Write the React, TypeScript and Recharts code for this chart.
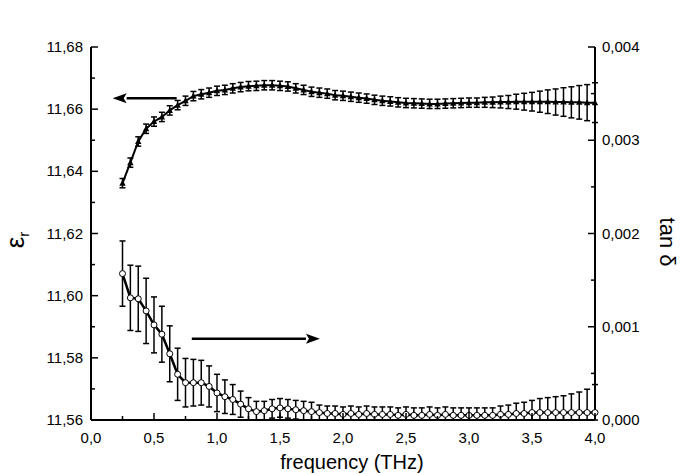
import { ComposedChart, Line, XAxis, YAxis, ErrorBar, ReferenceLine, Label } from "recharts";

// frequency grid (THz)
const freq = [
  0.25, 0.3125, 0.375, 0.4375, 0.5, 0.5625, 0.625, 0.6875, 0.75, 0.8125, 0.875, 0.9375,
  1, 1.0625, 1.125, 1.1875, 1.25, 1.3125, 1.375, 1.4375, 1.5, 1.5625, 1.625, 1.6875,
  1.75, 1.8125, 1.875, 1.9375, 2, 2.0625, 2.125, 2.1875, 2.25, 2.3125, 2.375, 2.4375,
  2.5, 2.5625, 2.625, 2.6875, 2.75, 2.8125, 2.875, 2.9375, 3, 3.0625, 3.125, 3.1875,
  3.25, 3.3125, 3.375, 3.4375, 3.5, 3.5625, 3.625, 3.6875, 3.75, 3.8125, 3.875, 3.9375, 4,
];

// permittivity (left axis)
const eps = [
  11.6362, 11.6428, 11.6496, 11.6537, 11.656, 11.6575, 11.6596, 11.6613, 11.6627, 11.6642, 11.6648, 11.6653,
  11.6659, 11.6662, 11.6667, 11.6671, 11.6674, 11.6675, 11.6677, 11.6677, 11.6675, 11.6673, 11.6667, 11.6662,
  11.6656, 11.6653, 11.665, 11.6645, 11.6643, 11.664, 11.6637, 11.6634, 11.663, 11.6627, 11.6625, 11.6622,
  11.662, 11.6619, 11.6618, 11.6617, 11.6617, 11.6618, 11.6619, 11.662, 11.6621, 11.6621, 11.6622, 11.6622,
  11.6623, 11.6623, 11.6624, 11.6624, 11.6624, 11.6624, 11.6624, 11.6623, 11.6623, 11.6622, 11.6622, 11.6621, 11.6621,
];
const epsErr = [
  0.0015, 0.0015, 0.0015, 0.0015, 0.0015, 0.0015, 0.0015, 0.0015, 0.0015, 0.0015, 0.0015, 0.0015,
  0.0015, 0.0015, 0.0015, 0.0015, 0.0015, 0.0015, 0.0015, 0.0015, 0.0015, 0.0015, 0.0015, 0.0015,
  0.0015, 0.0015, 0.0015, 0.0015, 0.0015, 0.0015, 0.0015, 0.0015, 0.0015, 0.0015, 0.0015, 0.0015,
  0.0015, 0.0015, 0.0015, 0.0015, 0.0015, 0.0015, 0.0015, 0.0015, 0.0015, 0.0015, 0.0016, 0.0017,
  0.0019, 0.0021, 0.0024, 0.0027, 0.003, 0.0034, 0.0038, 0.0042, 0.0046, 0.005, 0.0054, 0.0058, 0.0064,
];

// loss tangent (right axis)
const tanD = [
  0.00157, 0.00131, 0.0013, 0.00117, 0.00102, 0.00092, 0.00071, 0.00049, 0.0004, 0.0004, 0.0004, 0.00036,
  0.00029, 0.00025, 0.00022, 0.00017, 0.00012, 0.00009, 0.0001, 0.00012, 0.00013, 0.00012, 0.00011, 0.0001,
  0.00009, 0.00008, 0.00007, 0.00007, 0.00006, 0.00007, 0.00006, 0.00007, 0.00006, 0.00006, 0.00006, 0.00005,
  0.00006, 0.00005, 0.00005, 0.00006, 0.00005, 0.00006, 0.00005, 0.00005, 0.00005, 0.00005, 0.00005, 0.00005,
  0.00006, 0.00006, 0.00007, 0.00007, 0.00008, 0.00008, 0.00008, 0.00008, 0.00008, 0.00008, 0.00008, 0.00008, 0.00008,
];
const tanErr = [
  0.00035, 0.00035, 0.00035, 0.00035, 0.0003, 0.0003, 0.0003, 0.00028, 0.00026, 0.00025, 0.00024, 0.00022,
  0.0002, 0.00018, 0.00016, 0.00014, 0.00012, 0.00011, 0.0001, 0.0001, 0.0001, 0.0001, 0.0001, 0.0001,
  0.0001, 0.00008, 0.00008, 0.00008, 0.00008, 0.00008, 0.00008, 0.00008, 0.00008, 0.00008, 0.00008, 0.00008,
  0.00008, 0.00008, 0.00008, 0.00008, 0.00008, 0.00008, 0.00008, 0.00008, 0.00008, 0.00008, 0.00008, 0.00008,
  0.00009, 0.0001, 0.00011, 0.00012, 0.00013, 0.00015, 0.00016, 0.00017, 0.00018, 0.0002, 0.00022, 0.00025, 0.0003,
];

const freqTicks = [0, 0.25, 0.5, 0.75, 1, 1.25, 1.5, 1.75, 2, 2.25, 2.5, 2.75, 3, 3.25, 3.5, 3.75, 4];
const epsTicks = [11.56, 11.57, 11.58, 11.59, 11.6, 11.61, 11.62, 11.63, 11.64, 11.65, 11.66, 11.67, 11.68];
const tanTicks = [0, 0.0005, 0.001, 0.0015, 0.002, 0.0025, 0.003, 0.0035, 0.004];

const data = freq.map((f, i) => ({
  f,
  eps: eps[i],
  epsErr: epsErr[i],
  tan: tanD[i],
  tanErr: [Math.min(tanErr[i], tanD[i]), tanErr[i]],
}));

const FONT = "'Liberation Sans', Arial, sans-serif";
const isMajor = (v: number, step: number) => Math.abs(v / step - Math.round(v / step)) < 1e-6;
const comma = (v: number, d: number) => v.toFixed(d).replace(".", ",");

function BottomTick({ x, y, payload }: any) {
  const major = isMajor(payload.value, 0.5);
  return (
    <g>
      <line x1={x} x2={x} y1={y} y2={y - (major ? 7 : 4)} stroke="#000" strokeWidth={1.5} />
      {major && (
        <text x={x} y={y + 23} textAnchor="middle" fontSize={15} fontFamily={FONT} fill="#000">
          {comma(payload.value, 1)}
        </text>
      )}
    </g>
  );
}

function TopTick({ x, y, payload }: any) {
  const major = isMajor(payload.value, 0.5);
  return <line x1={x} x2={x} y1={y} y2={y + (major ? 7 : 4)} stroke="#000" strokeWidth={1.5} />;
}

function LeftTick({ x, y, payload }: any) {
  const major = isMajor(payload.value - 11.56, 0.02);
  return (
    <g>
      <line x1={x} x2={x + (major ? 7 : 4)} y1={y} y2={y} stroke="#000" strokeWidth={1.5} />
      {major && (
        <text x={x - 8} y={y + 5} textAnchor="end" fontSize={15} fontFamily={FONT} fill="#000">
          {comma(payload.value, 2)}
        </text>
      )}
    </g>
  );
}

function RightTick({ x, y, payload }: any) {
  const major = isMajor(payload.value, 0.001);
  return (
    <g>
      <line x1={x} x2={x - (major ? 7 : 4)} y1={y} y2={y} stroke="#000" strokeWidth={1.5} />
      {major && (
        <text x={x + 7} y={y + 5} textAnchor="start" fontSize={15} fontFamily={FONT} fill="#000">
          {comma(payload.value, 3)}
        </text>
      )}
    </g>
  );
}

function Triangle({ cx, cy }: any) {
  if (cx == null || cy == null) return null;
  return <path d={`M${cx},${cy - 3.5} L${cx + 3.2},${cy + 2.5} L${cx - 3.2},${cy + 2.5} Z`} fill="#000" />;
}

function Circle({ cx, cy }: any) {
  if (cx == null || cy == null) return null;
  return <circle cx={cx} cy={cy} r={3} fill="#fff" stroke="#000" strokeWidth={1} />;
}

function Arrow({ x1, y1, x2, y2 }: any) {
  const dir = x2 > x1 ? 1 : -1;
  const head = 14;
  return (
    <g>
      <line x1={x1} y1={y1} x2={x2 - dir * head} y2={y2} stroke="#000" strokeWidth={2.5} />
      <path
        d={`M${x2},${y2} L${x2 - dir * head},${y2 - 5} L${x2 - dir * (head - 3)},${y2} L${x2 - dir * head},${y2 + 5} Z`}
        fill="#000"
      />
    </g>
  );
}

export default function App() {
  return (
    <div style={{ position: "absolute", left: 0, top: 0, background: "#fff" }}>
      <ComposedChart width={683} height={474} data={data} margin={{ top: 47, right: 0, bottom: 0, left: 0 }}>
        <XAxis
          xAxisId="b"
          dataKey="f"
          type="number"
          domain={[0, 4]}
          ticks={freqTicks}
          interval={0}
          height={54}
          tickSize={0}
          tickMargin={0}
          tick={<BottomTick />}
          axisLine={{ stroke: "#000", strokeWidth: 2 }}
        >
          <Label
            content={() => (
              <text x={352} y={469} textAnchor="middle" fontSize={20} fontFamily={FONT} fill="#000">
                frequency (THz)
              </text>
            )}
          />
        </XAxis>
        <XAxis
          xAxisId="t"
          orientation="top"
          dataKey="f"
          type="number"
          domain={[0, 4]}
          ticks={freqTicks}
          interval={0}
          height={0}
          tickSize={0}
          tickMargin={0}
          tick={<TopTick />}
          axisLine={{ stroke: "#000", strokeWidth: 2 }}
        >
          <Label
            content={() => (
              <text x={352} y={28} textAnchor="middle" fontSize={18} letterSpacing={1} fontFamily={FONT} fill="#000">
                high resistivity silicon, d = 3,56 mm
              </text>
            )}
          />
        </XAxis>
        <YAxis
          yAxisId="left"
          type="number"
          domain={[11.56, 11.68]}
          ticks={epsTicks}
          interval={0}
          width={91}
          tickSize={0}
          tickMargin={0}
          tick={<LeftTick />}
          axisLine={{ stroke: "#000", strokeWidth: 2 }}
        >
          <Label
            content={() => (
              <text transform="translate(24,240) rotate(-90)" textAnchor="middle" fontSize={26} fontFamily={FONT} fill="#000">
                ε<tspan fontSize={15} dy={5}>r</tspan>
              </text>
            )}
          />
        </YAxis>
        <YAxis
          yAxisId="right"
          orientation="right"
          type="number"
          domain={[0, 0.004]}
          ticks={tanTicks}
          interval={0}
          width={88}
          tickSize={0}
          tickMargin={0}
          tick={<RightTick />}
          axisLine={{ stroke: "#000", strokeWidth: 2 }}
        >
          <Label
            content={() => (
              <text transform="translate(660,242) rotate(90)" textAnchor="middle" fontSize={22} fontFamily={FONT} fill="#000">
                tan δ
              </text>
            )}
          />
        </YAxis>

        <ReferenceLine
          xAxisId="b"
          yAxisId="left"
          segment={[{ x: 0.68, y: 11.6635 }, { x: 0.172, y: 11.6635 }]}
          shape={<Arrow />}
        />
        <ReferenceLine
          xAxisId="b"
          yAxisId="right"
          segment={[{ x: 0.8, y: 0.00087 }, { x: 1.817, y: 0.00087 }]}
          shape={<Arrow />}
        />

        <Line
          xAxisId="b"
          yAxisId="right"
          dataKey="tan"
          type="linear"
          stroke="#000"
          strokeWidth={2.5}
          dot={<Circle />}
          activeDot={false}
          isAnimationActive={false}
        >
          <ErrorBar dataKey="tanErr" direction="y" width={3} stroke="#000" strokeWidth={1.5} />
        </Line>
        <Line
          xAxisId="b"
          yAxisId="left"
          dataKey="eps"
          type="linear"
          stroke="#000"
          strokeWidth={2}
          dot={<Triangle />}
          activeDot={false}
          isAnimationActive={false}
        >
          <ErrorBar dataKey="epsErr" direction="y" width={3} stroke="#000" strokeWidth={1.5} />
        </Line>
      </ComposedChart>
    </div>
  );
}
